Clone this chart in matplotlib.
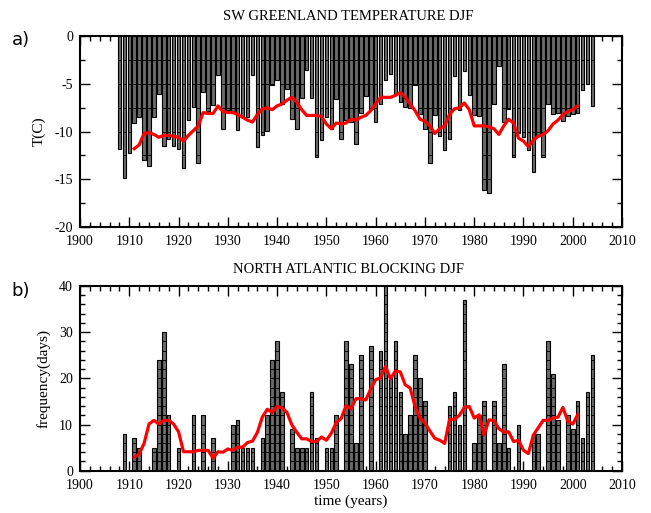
import numpy as np
import matplotlib
matplotlib.use('Agg')
import matplotlib.pyplot as plt
from matplotlib.ticker import MultipleLocator

# ---------------- data ----------------
years = np.arange(1908, 2005)

temp = [-11.8, -14.9,
        -12.2, -9.1, -8.5, -13.0, -13.6, -8.5, -6.0, -11.5, -10.8, -11.5,
        -11.8, -13.8, -8.8, -7.4, -13.3, -5.8, -7.8, -7.2, -4.1, -9.7,
        -7.7, -7.8, -9.8, -8.5, -8.5, -4.0, -11.6, -10.4, -9.9, -5.1,
        -4.6, -7.1, -5.5, -8.7, -9.7, -6.5, -3.5, -6.5, -12.7, -10.9,
        -8.5, -9.7, -6.6, -10.8, -8.8, -9.0, -11.3, -8.0, -6.3, -7.6,
        -9.0, -7.1, -4.6, -3.9, -6.0, -6.9, -7.4, -7.5, -5.1, -8.2,
        -9.7, -13.3, -8.3, -10.5, -11.9, -10.8, -4.2, -7.7, -3.6, -6.2,
        -8.3, -8.4, -16.1, -16.5, -7.1, -3.1, -9.0, -7.6, -12.7, -10.1,
        -10.6, -11.9, -14.2, -10.4, -12.7, -7.1, -8.1, -8.0, -8.9, -8.4,
        -8.2, -8.0, -5.6, -5.0, -7.3]

smooth_years = np.arange(1911, 2002)

temp_smooth = [-11.8, -11.4, -10.2, -10.1, -10.3, -10.6, -10.4, -10.4, -10.5, -10.6,
               -11.0, -10.4, -9.9, -9.4, -8.0, -8.1, -8.1, -7.3, -7.9, -8.0,
               -8.0, -8.2, -8.5, -8.8, -9.0, -8.2, -7.6, -7.5, -7.7, -7.3,
               -7.1, -6.7, -6.4, -6.9, -7.7, -8.3, -8.3, -8.3, -8.4, -9.2,
               -9.7, -9.1, -9.2, -9.1, -8.7, -8.8, -8.5, -8.3, -7.8, -7.1,
               -6.4, -6.4, -6.4, -6.2, -5.9, -6.4, -7.1, -7.8, -8.7, -8.9,
               -9.4, -10.2, -9.7, -9.4, -8.2, -7.6, -7.5, -7.0, -7.7, -9.4,
               -9.4, -9.4, -9.5, -9.7, -10.3, -9.4, -8.7, -9.1, -10.7, -11.0,
               -11.6, -10.9, -10.5, -10.3, -9.9, -9.2, -8.8, -8.2, -7.9, -7.7,
               -7.3]

block = [0, 8,
         0, 7, 5, 0, 0, 5, 24, 30, 12, 0,
         5, 0, 0, 12, 0, 12, 0, 7, 0, 0,
         0, 10, 11, 5, 5, 5, 0, 7, 12, 24,
         28, 17, 0, 9, 5, 5, 5, 17, 7, 0,
         5, 5, 12, 0, 28, 23, 6, 25, 0, 27,
         0, 26, 40, 20, 28, 17, 8, 12, 25, 20,
         15, 0, 0, 0, 0, 14, 17, 10, 37, 0,
         6, 12, 15, 0, 15, 6, 23, 5, 0, 10,
         0, 0, 8, 8, 0, 28, 21, 11, 0, 12,
         9, 15, 7, 17, 25]

block_smooth = [2.9, 3.6, 5.9, 10.1, 10.9, 10.1, 10.9, 10.9, 10.1, 8.4,
                4.1, 4.1, 4.1, 4.4, 4.4, 4.4, 2.7, 4.1, 4.0, 4.7,
                4.4, 5.1, 5.1, 6.1, 6.4, 8.3, 11.6, 13.3, 12.6, 13.9,
                13.6, 12.6, 9.9, 8.3, 6.9, 6.9, 6.3, 6.3, 7.3, 6.6,
                8.1, 10.4, 11.3, 14.1, 13.4, 15.6, 15.6, 15.3, 17.7, 19.7,
                20.1, 22.6, 19.9, 21.6, 21.4, 18.6, 17.9, 13.9, 11.4, 10.3,
                8.6, 7.0, 6.6, 5.9, 11.1, 11.1, 12.0, 13.7, 13.9, 11.4,
                12.1, 7.7, 11.0, 10.9, 9.1, 8.4, 8.4, 6.3, 6.6, 4.4,
                3.7, 7.7, 9.3, 10.9, 10.9, 11.4, 11.6, 13.7, 10.7, 10.1,
                12.1]

titles = ["SW GREENLAND TEMPERATURE DJF", "NORTH ATLANTIC BLOCKING DJF"]
panel_tags = ["a)", "b)"]

# ---------------- style ----------------
plt.rcParams['axes.unicode_minus'] = False
SERIF = 'Liberation Serif'
BAR_FACE = '#6a6a6a'
BAR_W = 0.72

fig = plt.figure(figsize=(6.51, 5.13), dpi=100)
ax1 = fig.add_axes([0.1229, 0.5581, 0.8326, 0.3708])
ax2 = fig.add_axes([0.1229, 0.0825, 0.8326, 0.3600])


def style(ax, ymaj, ymin):
    ax.set_xlim(1900, 2010)
    ax.xaxis.set_major_locator(MultipleLocator(10))
    ax.xaxis.set_minor_locator(MultipleLocator(2))
    ax.yaxis.set_major_locator(MultipleLocator(ymaj))
    ax.yaxis.set_minor_locator(MultipleLocator(ymin))
    ax.tick_params(which='both', direction='in', top=True, right=True,
                   labelsize=10)
    ax.tick_params(axis='x', which='both', pad=6)
    ax.tick_params(axis='y', which='both', pad=5)
    ax.tick_params(which='major', length=7, width=1.0)
    ax.tick_params(which='minor', length=3.5, width=1.0)
    for s in ax.spines.values():
        s.set_linewidth(1.5)
    for lab in ax.get_xticklabels() + ax.get_yticklabels():
        lab.set_family(SERIF)


def bars_with_lines(ax, x, vals, step):
    ax.bar(x, vals, width=BAR_W, color=BAR_FACE, edgecolor='black',
           linewidth=0.8, zorder=2)
    xs0, xs1, ys = [], [], []
    for xi, v in zip(x, vals):
        n = int(abs(v) // step)
        sgn = 1 if v > 0 else -1
        for k in range(1, n + 1):
            ys.append(sgn * k * step)
            xs0.append(xi - BAR_W / 2)
            xs1.append(xi + BAR_W / 2)
    ax.hlines(ys, xs0, xs1, colors='black', linewidth=0.7, zorder=3)


# panel a
bars_with_lines(ax1, years, temp, 2.5)
ax1.plot(smooth_years, temp_smooth, color='red', lw=2.3, zorder=4)
ax1.set_ylim(-20, 0)
style(ax1, 5, 2.5)
ax1.set_ylabel('T(C)', family=SERIF, fontsize=11, labelpad=6)

# panel b
bars_with_lines(ax2, years, block, 2)
ax2.plot(smooth_years, block_smooth, color='red', lw=2.3, zorder=4)
ax2.set_ylim(0, 40)
style(ax2, 10, 2)
ax2.set_ylabel('frequency(days)', family=SERIF, fontsize=11, labelpad=6)
ax2.set_xlabel('time (years)', family=SERIF, fontsize=11, labelpad=2)

fig.text(0.535, 0.967, titles[0], family=SERIF, fontsize=10.5,
         ha='center', va='center')
fig.text(0.535, 0.474, titles[1], family=SERIF, fontsize=10.5,
         ha='center', va='center')
fig.text(0.018, 0.922, panel_tags[0], fontsize=13, ha='left', va='center')
fig.text(0.018, 0.432, panel_tags[1], fontsize=13, ha='left', va='center')

fig.savefig('out.png', dpi=100)
